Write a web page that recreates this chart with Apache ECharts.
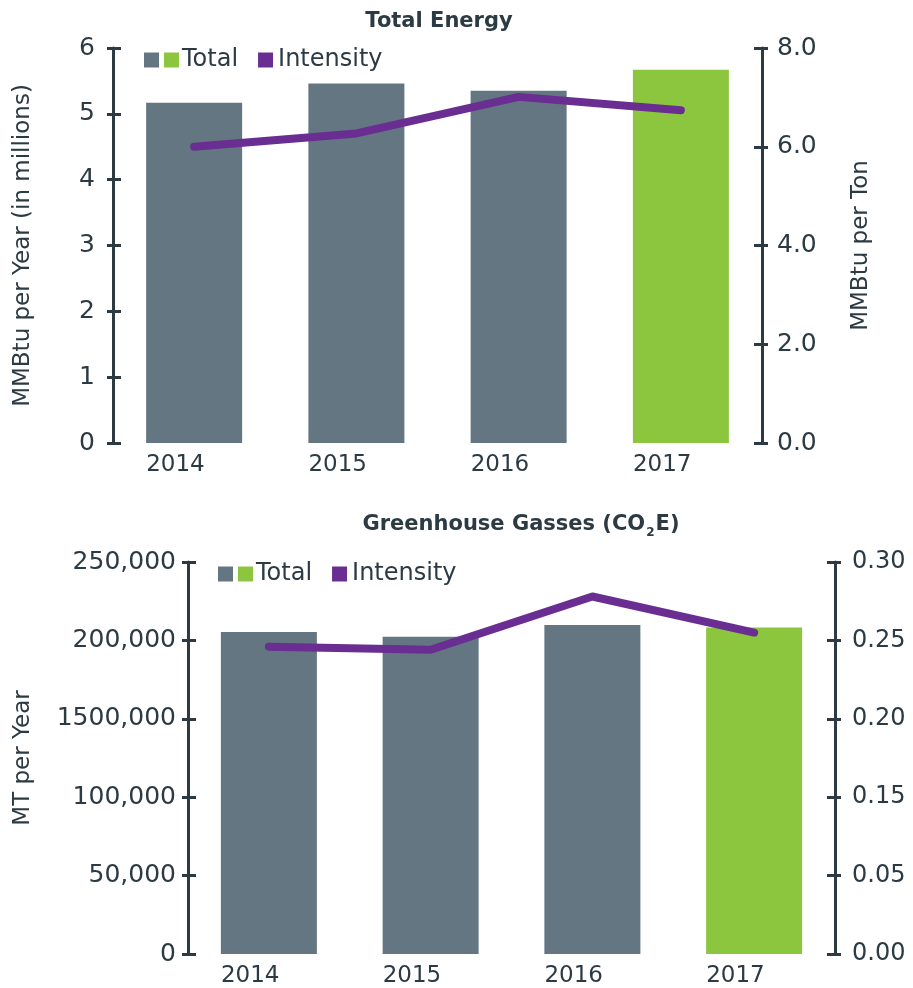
<!DOCTYPE html>
<html>
<head>
<meta charset="utf-8">
<script src="https://cdn.jsdelivr.net/npm/echarts@6/dist/echarts.min.js"></script>
<style>
html, body { margin: 0; padding: 0; background: #fff; }
#main { width: 913px; height: 988px; }
</style>
</head>
<body>
<div id="main"></div>
<script>
// data
var years = ['2014', '2015', '2016', '2017'];
var energyTotal = [5.17, 5.46, 5.35, 5.67];          // MMBtu per year, millions
var energyIntensity = [6.0, 6.27, 7.01, 6.74];       // MMBtu per ton
var ghgTotal = [205400, 202300, 209900, 208200];     // MT per year
var ghgIntensity = [0.246, 0.244, 0.278, 0.255];
var ghgLeftLabels = ['0', '50,000', '100,000', '1500,000', '200,000', '250,000'];
var ghgRightLabels = ['0.00', '0.05', '0.15', '0.20', '0.25', '0.30'];

var ink = '#2c3a43';
var gray = '#637681';
var green = '#8cc63f';
var purple = '#6a2d91';
var font = 'DejaVu Sans';
var lastYear = '2017';

function barData(vals) {
	var out = [];
	for (var i = 0; i < vals.length; i++) {
		out.push({ value: vals[i], itemStyle: { color: years[i] === lastYear ? green : gray } });
	}
	return out;
}

function xAxisFor(grid) {
	return {
		type: 'category', gridIndex: grid, data: years,
		axisLine: { show: false }, axisTick: { show: false },
		axisLabel: {
			margin: 11, color: ink, fontFamily: font, fontSize: 23,
			formatter: function (v) { return '{a|' + v + '}'; },
			rich: { a: { width: 96, align: 'left', color: ink, fontFamily: font, fontSize: 23 } }
		}
	};
}

// main axis: labels + outside ticks; twin axis adds the inside half of the tick
function yAxisPair(grid, pos, min, max, interval, label, name, nameGap) {
	var main = {
		type: 'value', gridIndex: grid, position: pos, min: min, max: max, interval: interval,
		axisLine: { show: true, lineStyle: { color: ink, width: 3 } },
		axisTick: { show: true, length: 6, lineStyle: { color: ink, width: 3 } },
		splitLine: { show: false },
		axisLabel: label
	};
	if (name) {
		main.name = name;
		main.nameLocation = 'middle';
		main.nameRotate = 90;
		main.nameGap = nameGap;
		main.nameTextStyle = { color: ink, fontFamily: font, fontSize: 23 };
	}
	var twin = {
		type: 'value', gridIndex: grid, position: pos, min: min, max: max, interval: interval,
		axisLine: { show: false },
		axisTick: { show: true, inside: true, length: 8, lineStyle: { color: ink, width: 3 } },
		splitLine: { show: false },
		axisLabel: { show: false }
	};
	return [main, twin];
}

function legendFor(left, top) {
	return {
		left: left, top: top, padding: 0, itemWidth: 15, itemHeight: 15, itemGap: 20,
		icon: 'rect', selectedMode: false,
		data: ['Total', 'Intensity'],
		formatter: function (name) {
			return name === 'Total' ? '{g|}{s|}{t|Total}' : '{t|Intensity}';
		},
		textStyle: {
			color: ink, fontFamily: font, fontSize: 24,
			rich: {
				g: { width: 15, height: 15, backgroundColor: green },
				s: { width: 3 },
				t: { color: ink, fontFamily: font, fontSize: 24 }
			}
		}
	};
}

var yAxes = []
	.concat(yAxisPair(0, 'left', 0, 6, 1,
		{ margin: 18, color: ink, fontFamily: font, fontSize: 25 },
		'MMBtu per Year (in millions)', 78))
	.concat(yAxisPair(0, 'right', 0, 8, 2,
		{ margin: 15, color: ink, fontFamily: font, fontSize: 25,
		  formatter: function (v) { return v.toFixed(1); } },
		'MMBtu per Ton', 88))
	.concat(yAxisPair(1, 'left', 0, 250000, 50000,
		{ margin: 12, color: ink, fontFamily: font, fontSize: 25,
		  formatter: function (v, i) { return ghgLeftLabels[i]; } },
		'MT per Year', 153))
	.concat(yAxisPair(1, 'right', 0.05, 0.30, 0.05,
		{ margin: 17, color: ink, fontFamily: font, fontSize: 24,
		  formatter: function (v, i) { return ghgRightLabels[i]; } },
		null, 0));

var lineStyle = { color: purple, width: 8, cap: 'round', join: 'round' };

var option = {
	animation: false,
	backgroundColor: '#fff',
	title: [{
		text: 'Total Energy', left: 439, top: 11, padding: 0, textAlign: 'center',
		textStyle: { color: ink, fontFamily: font, fontSize: 21, fontWeight: 'bold' }
	}, {
		text: '{b|Greenhouse Gasses (CO}{s|2}{b|E)}', left: 521, top: 511, padding: 0, textAlign: 'center',
		textStyle: {
			rich: {
				b: { color: ink, fontFamily: font, fontSize: 21, fontWeight: 'bold', lineHeight: 28 },
				s: { color: ink, fontFamily: font, fontSize: 12, fontWeight: 'bold', lineHeight: 28, padding: [16, 1, 0, 1] }
			}
		}
	}],
	legend: [legendFor(144, 48), legendFor(218, 562)],
	grid: [
		{ left: 113, right: 151, top: 48, bottom: 545 },
		{ left: 188, right: 78, top: 562, bottom: 32 }
	],
	xAxis: [xAxisFor(0), xAxisFor(1)],
	yAxis: yAxes,
	series: [{
		name: 'Total', type: 'bar', xAxisIndex: 0, yAxisIndex: 0,
		barWidth: 96, itemStyle: { color: gray }, data: barData(energyTotal)
	}, {
		name: 'Intensity', type: 'line', xAxisIndex: 0, yAxisIndex: 2,
		symbol: 'none', lineStyle: lineStyle, itemStyle: { color: purple }, z: 5,
		data: energyIntensity
	}, {
		name: 'Total', type: 'bar', xAxisIndex: 1, yAxisIndex: 4,
		barWidth: 96, itemStyle: { color: gray }, data: barData(ghgTotal)
	}, {
		name: 'Intensity', type: 'line', xAxisIndex: 1, yAxisIndex: 6,
		symbol: 'none', lineStyle: lineStyle, itemStyle: { color: purple }, z: 5,
		data: ghgIntensity
	}]
};

var myChart = echarts.init(document.getElementById('main'), null, { renderer: 'canvas' });
myChart.setOption(option);
</script>
</body>
</html>
